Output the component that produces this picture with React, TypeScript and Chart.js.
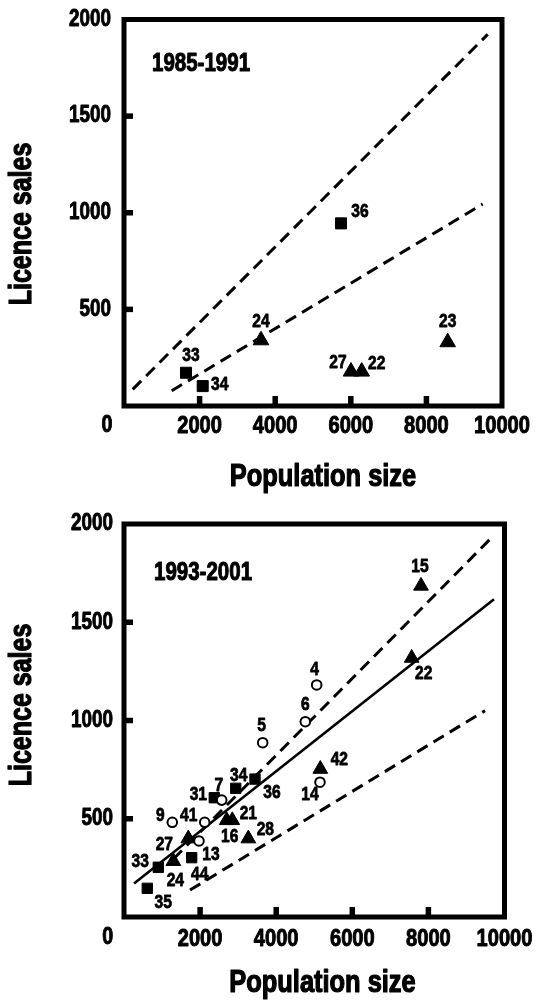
import React, { useEffect, useRef } from "react";
import { Chart, registerables } from "chart.js";

Chart.register(...registerables);

// Arial-metric bold face, horizontally condensed when drawn (Arial Narrow look)
const FONT_FAMILY = '"Liberation Sans", Arial, Helvetica, sans-serif';
const NARROW = 0.82;

// ---------- Axes ----------
const X_MIN = 0;
const X_MAX = 10000;
const X_STEP = 2000;
const Y_MIN = 0;
const Y_MAX = 2000;
const Y_STEP = 500;
const xInnerTicks = [2000, 4000, 6000, 8000];
const yInnerTicks = [500, 1000, 1500];
const xAxisTitle = "Population size";
const yAxisTitle = "Licence sales";
const originLabel = "0";

// ---------- Panel A: 1985-1991 ----------
const panelALabel = "1985-1991";
const aSquareX = [1640, 2082, 5741];
const aSquareY = [172, 103, 945];
const aSquareIds = ["33", "34", "36"];
const aTriangleX = [3624, 6005, 6288, 8563];
const aTriangleY = [340, 178, 178, 330];
const aTriangleIds = ["24", "27", "22", "23"];
const aUpperDashX = [230, 9622];
const aUpperDashY = [86, 1923];
const aLowerDashX = [1262, 9489];
const aLowerDashY = [79, 1045];

// ---------- Panel B: 1993-2001 ----------
const panelBLabel = "1993-2001";
const bSquareX = [3443, 2936, 2373, 1779, 901, 612];
const bSquareY = [702, 655, 607, 302, 253, 146];
const bSquareIds = ["36", "34", "31", "44", "33", "35"];
const bCircleX = [5064, 4765, 3645, 5151, 2568, 1269, 2121, 1971];
const bCircleY = [1181, 994, 887, 686, 595, 482, 482, 387];
const bCircleIds = ["4", "6", "5", "14", "7", "9", "41", "13"];
const bTriangleX = [7806, 7561, 5159, 2699, 2846, 3267, 1690, 1296];
const bTriangleY = [1685, 1318, 753, 492, 492, 399, 399, 284];
const bTriangleIds = ["15", "22", "42", "16", "21", "28", "27", "24"];
const bUpperDashX = [1300, 9622];
const bUpperDashY = [295, 1923];
const bLowerDashX = [1735, 9489];
const bLowerDashY = [137, 1050];
const bFitX = [263, 9724];
const bFitY = [171, 1617];

// ---------- Label placement (pixel offsets from marker) ----------
const aSquareLabelOffsets = [[5, -17], [17, -1], [19, -12]];
const aTriangleLabelOffsets = [[0, -19], [-13, -9], [15, -8], [0, -20]];
const bSquareLabelOffsets = [[17, 14], [3, -13], [-16, -3], [8, 17], [-18, -6], [16, 14]];
const bCircleLabelOffsets = [[-2, -15], [0, -17], [-1, -17], [-10, 13], [-3, -14], [-12, -7], [-16, -7], [12, 14]];
const bTriangleLabelOffsets = [[-1, -19], [12, 16], [19, -9], [3, 16], [16, -7], [17, -9], [-24, 6], [2, 20]];

const W = 536;
const H = 504;

function pts(xs: number[], ys: number[]) {
  return xs.map((x, i) => ({ x, y: ys[i] }));
}

function markerSet(xs: number[], ys: number[], ids: string[], offs: number[][], style: string, radius: number, hollow = false) {
  return {
    data: pts(xs, ys),
    pointStyle: style,
    pointRadius: radius,
    pointHoverRadius: radius,
    backgroundColor: hollow ? "#ffffff" : "#000000",
    borderColor: "#000000",
    borderWidth: hollow ? 2 : 1,
    showLine: false,
    pointIds: ids,
    labelOffsets: offs,
  };
}

function lineSet(xs: number[], ys: number[], dashed: boolean) {
  return {
    data: pts(xs, ys),
    showLine: true,
    borderColor: "#000000",
    borderWidth: dashed ? 3 : 2.6,
    borderDash: dashed ? [12, 7] : [],
    pointRadius: 0,
    pointHoverRadius: 0,
    fill: false,
    tension: 0,
  };
}

const panelA = {
  label: panelALabel,
  top: 19.5,
  bottom: 406,
  left: 124,
  right: 502,
  xTickY: 426.5,
  yTickRight: 111,
  zero: [107, 425],
  yTitle: [23, 224],
  xTitle: [323, 477],
  tag: [152, 64],
  datasets: [
    markerSet(aSquareX, aSquareY, aSquareIds, aSquareLabelOffsets, "rect", 7.8),
    markerSet(aTriangleX, aTriangleY, aTriangleIds, aTriangleLabelOffsets, "triangle", 9),
    lineSet(aUpperDashX, aUpperDashY, true),
    lineSet(aLowerDashX, aLowerDashY, true),
  ],
};

const panelB = {
  label: panelBLabel,
  top: 20,
  bottom: 413,
  left: 124,
  right: 504.5,
  xTickY: 435,
  yTickRight: 113,
  zero: [107.7, 433],
  yTitle: [23, 201],
  xTitle: [322.5, 479],
  tag: [154, 69.3],
  datasets: [
    markerSet(bCircleX, bCircleY, bCircleIds, bCircleLabelOffsets, "circle", 4.8, true),
    markerSet(bSquareX, bSquareY, bSquareIds, bSquareLabelOffsets, "rect", 7.3),
    markerSet(bTriangleX, bTriangleY, bTriangleIds, bTriangleLabelOffsets, "triangle", 8.5),
    lineSet(bFitX, bFitY, false),
    lineSet(bUpperDashX, bUpperDashY, true),
    lineSet(bLowerDashX, bLowerDashY, true),
  ],
};

function narrowText(
  ctx: CanvasRenderingContext2D,
  text: string,
  x: number,
  y: number,
  size: number,
  align: CanvasTextAlign,
  rotate = 0
) {
  ctx.save();
  ctx.translate(x, y);
  if (rotate) ctx.rotate(rotate);
  ctx.scale(NARROW, 1);
  ctx.font = `bold ${size}px ${FONT_FAMILY}`;
  ctx.textAlign = align;
  ctx.textBaseline = "middle";
  ctx.fillStyle = "#000";
  ctx.strokeStyle = "#000";
  ctx.lineJoin = "round";
  ctx.lineWidth = Math.max(0.8, size * 0.04);
  ctx.fillText(text, 0, 0);
  ctx.strokeText(text, 0, 0);
  ctx.restore();
}

function makeDecor(cfg: any) {
  return {
    id: "decor",
    afterDatasetsDraw(chart: any) {
      const ctx = chart.ctx as CanvasRenderingContext2D;
      const { left, right, top, bottom } = chart.chartArea;
      const xs = chart.scales.x;
      const ys = chart.scales.y;
      ctx.save();
      ctx.fillStyle = "#000";
      ctx.strokeStyle = "#000";
      // point labels
      chart.data.datasets.forEach((ds: any, i: number) => {
        if (!ds.pointIds) return;
        const meta = chart.getDatasetMeta(i);
        meta.data.forEach((el: any, j: number) => {
          const off = ds.labelOffsets[j];
          narrowText(ctx, ds.pointIds[j], el.x + off[0], el.y + off[1], 19, "center");
        });
      });
      // frame
      ctx.lineWidth = 5;
      ctx.strokeRect(left, top, right - left, bottom - top);
      // inner ticks
      ctx.lineWidth = 5.5;
      ctx.lineCap = "butt";
      xInnerTicks.forEach((v) => {
        const px = xs.getPixelForValue(v);
        ctx.beginPath();
        ctx.moveTo(px, bottom);
        ctx.lineTo(px, bottom - 10);
        ctx.stroke();
      });
      yInnerTicks.forEach((v) => {
        const py = ys.getPixelForValue(v);
        ctx.beginPath();
        ctx.moveTo(left, py);
        ctx.lineTo(left + 9, py);
        ctx.stroke();
      });
      // tick labels from the scales' ticks
      xs.ticks.forEach((t: any) => {
        if (t.value === 0) return;
        narrowText(ctx, String(t.value), xs.getPixelForValue(t.value), cfg.xTickY, 24.5, "center");
      });
      ys.ticks.forEach((t: any) => {
        if (t.value === 0) return;
        narrowText(ctx, String(t.value), cfg.yTickRight, ys.getPixelForValue(t.value), 23, "right");
      });
      // origin label
      narrowText(ctx, originLabel, cfg.zero[0], cfg.zero[1], 24, "center");
      // period tag
      narrowText(ctx, cfg.label, cfg.tag[0], cfg.tag[1], 25, "left");
      // axis titles
      narrowText(ctx, xAxisTitle, cfg.xTitle[0], cfg.xTitle[1], 31, "center");
      narrowText(ctx, yAxisTitle, cfg.yTitle[0], cfg.yTitle[1], 30.5, "center", -Math.PI / 2);
      ctx.restore();
    },
  };
}

function Panel({ cfg }: { cfg: any }) {
  const ref = useRef<HTMLCanvasElement>(null);
  useEffect(() => {
    const canvas = ref.current;
    if (!canvas) return;
    const chart = new Chart(canvas, {
      type: "scatter",
      data: { datasets: cfg.datasets as any },
      options: {
        animation: false,
        responsive: false,
        maintainAspectRatio: false,
        events: [],
        layout: {
          padding: { top: cfg.top, right: W - cfg.right, left: 0, bottom: 0 },
        },
        plugins: {
          legend: { display: false },
          tooltip: { enabled: false },
        },
        scales: {
          x: {
            type: "linear",
            min: X_MIN,
            max: X_MAX,
            grid: { display: false },
            border: { display: false },
            ticks: { stepSize: X_STEP, display: false },
            afterFit: (s: any) => {
              s.height = H - cfg.bottom;
            },
          },
          y: {
            type: "linear",
            min: Y_MIN,
            max: Y_MAX,
            grid: { display: false },
            border: { display: false },
            ticks: { stepSize: Y_STEP, display: false },
            afterFit: (s: any) => {
              s.width = cfg.left;
            },
          },
        },
      },
      plugins: [makeDecor(cfg)],
    });
    return () => chart.destroy();
  }, [cfg]);
  return (
    <canvas
      ref={ref}
      width={W}
      height={H}
      style={{ display: "block", width: W, height: H }}
    />
  );
}

export default function App() {
  return (
    <div
      style={{
        position: "absolute",
        left: 0,
        top: 0,
        width: W,
        height: H * 2,
        background: "#ffffff",
        overflow: "hidden",
      }}
    >
      <Panel cfg={panelA} />
      <Panel cfg={panelB} />
    </div>
  );
}
